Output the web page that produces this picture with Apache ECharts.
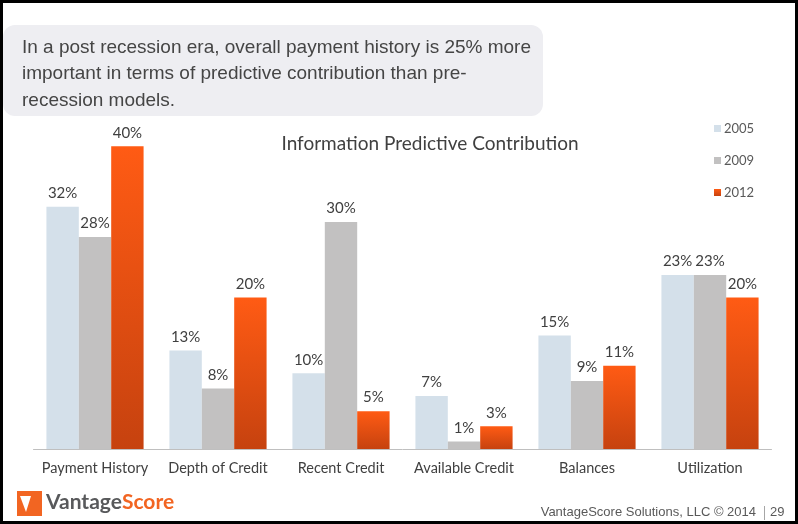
<!DOCTYPE html>
<html><head><meta charset="utf-8">
<script src="https://cdn.jsdelivr.net/npm/echarts@6/dist/echarts.min.js"></script>
<style>html,body{margin:0;padding:0;background:#fff}#c{width:798px;height:524px}</style>
</head><body><div id="c"></div>
<script>
const categories = ['Payment History','Depth of Credit','Recent Credit','Available Credit','Balances','Utilization'];
const seriesNames = ['2005','2009','2012'];
const v2005 = [32, 13, 10, 7, 15, 23];
const v2009 = [28, 8, 30, 1, 9, 23];
const v2012 = [40, 20, 5, 3, 11, 20];
const titleText = 'Information Predictive Contribution';
const noteLines = ['In a post recession era, overall payment history is 25% more','important in terms of predictive contribution than pre-','recession models.'];

const chart = echarts.init(document.getElementById('c'), null, {renderer:'canvas'});
const lbl = {show:true, position:'top', distance:6, formatter:'{c}%', color:'#404040', fontSize:15, fontFamily:'Lato'};
const orange = new echarts.graphic.LinearGradient(0,0,0,1,[{offset:0,color:'#ff5b14'},{offset:1,color:'#c6420f'}]);
chart.setOption({
  animation:false,
  title:{text:titleText, left:425, top:129, textAlign:'center', textStyle:{fontFamily:'Lato', fontSize:19, fontWeight:'normal', color:'#404040'}},
  legend:{orient:'vertical', left:709, top:117, itemWidth:7, itemHeight:7, itemGap:19, icon:'rect',
    textStyle:{fontFamily:'Lato', fontSize:13, color:'#595959', padding:[0,0,0,-2]}, data:seriesNames},
  grid:{left:33.5, right:26.5, top:108.4, bottom:75, containLabel:false},
  xAxis:{type:'category', data:categories, axisTick:{show:false},
    axisLine:{lineStyle:{color:'#bfbfbf', width:1}},
    axisLabel:{color:'#404040', fontSize:14.5, fontFamily:'Lato', margin:12, interval:0}},
  yAxis:{type:'value', min:0, max:45, show:false, splitLine:{show:false}},
  series:[
    {name:'2005', type:'bar', data:v2005, barGap:'0%', barCategoryGap:'21%', itemStyle:{color:'#d4e0ea'}, label:lbl},
    {name:'2009', type:'bar', data:v2009, itemStyle:{color:'#c2c1c1'}, label:lbl},
    {name:'2012', type:'bar', data:v2012, itemStyle:{color:orange}, label:lbl}
  ],
  graphic:[
    {type:'rect', shape:{x:3, y:25, width:540, height:91, r:12}, style:{fill:'#eeeef2'}, z:-1},
    ...noteLines.map((t,i)=>({type:'text', left:22, top:38+i*26.5, style:{text:t, font:'19px "Liberation Sans", Arial', fill:'#454545'}})),
    {type:'rect', shape:{x:17, y:491, width:25, height:25}, style:{fill:'#f26522'}},
    {type:'polygon', shape:{points:[[20,496],[31,496],[26,512]]}, style:{fill:'#ffffff'}},
    {type:'text', left:46, top:492, style:{text:'{a|Vantage}{b|Score}', rich:{
      a:{fontFamily:'Lato', fontSize:21, fontWeight:'bold', fill:'#58595b'},
      b:{fontFamily:'Lato', fontSize:21, fontWeight:'bold', fill:'#f26522'}}}},
    {type:'text', right:42, top:506, style:{text:'VantageScore Solutions, LLC © 2014', font:'13px "Liberation Sans", Arial', fill:'#595959', textAlign:'right'}},
    {type:'rect', shape:{x:764, y:506, width:1, height:14}, style:{fill:'#a6a6a6'}},
    {type:'text', left:770, top:506, style:{text:'29', font:'13px "Liberation Sans", Arial', fill:'#595959'}},
    {type:'rect', shape:{x:1.5, y:1.5, width:795, height:521}, style:{fill:null, stroke:'#000', lineWidth:3}, z:100}
  ]
});
</script></body></html>
